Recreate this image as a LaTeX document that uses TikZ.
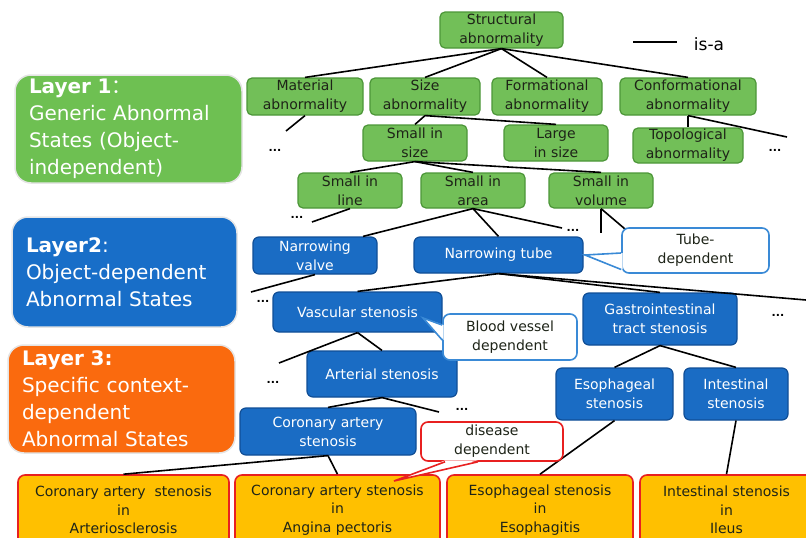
\documentclass[tikz,border=0pt]{standalone}
\usepackage{fontspec}
\setmainfont{DejaVu Sans}
\newfontfamily\cjkfont{Noto Sans CJK SC}
\usetikzlibrary{positioning,calc}

\definecolor{greenfill}{RGB}{114,191,88}
\definecolor{greenline}{RGB}{76,150,56}
\definecolor{layergreen}{RGB}{110,192,82}
\definecolor{bluefill}{RGB}{26,108,196}
\definecolor{blueline}{RGB}{16,78,150}
\definecolor{layerblue}{RGB}{24,110,200}
\definecolor{layerorange}{RGB}{250,106,14}
\definecolor{yellowfill}{RGB}{255,192,0}
\definecolor{redline}{RGB}{232,32,32}
\definecolor{callblue}{RGB}{58,138,214}
\definecolor{darktext}{RGB}{30,36,24}

\begin{document}
\begin{tikzpicture}[x=1pt, y=-1pt,
greennode/.style={rectangle, rounded corners=5pt, draw=greenline, fill=greenfill, line width=1.2pt, text=darktext, align=center, inner sep=0pt, font=\fontsize{14}{19}\selectfont},
bluenode/.style={rectangle, rounded corners=6pt, draw=blueline, fill=bluefill, line width=1.2pt, text=white, align=center, inner sep=0pt, font=\fontsize{14}{19}\selectfont},
yellownode/.style={rectangle, rounded corners=7pt, draw=redline, fill=yellowfill, line width=1.6pt, text=darktext, align=center, inner sep=0pt, font=\fontsize{14}{18.5}\selectfont},
callnode/.style={rectangle, rounded corners=7pt, draw=callblue, fill=white, line width=1.6pt, text=darktext, align=center, inner sep=0pt, font=\fontsize{14}{19}\selectfont},
layernode/.style={rectangle, rounded corners=16pt, draw=black!10, line width=1.5pt, text=white, align=left, inner xsep=14pt, inner ysep=0pt, font=\fontsize{20}{27}\selectfont},
dotnode/.style={inner sep=0pt, font=\bfseries\fontsize{11}{11}\selectfont},
isa/.style={line width=1.6pt, black},
]
\useasboundingbox (0,0) rectangle (806,538);
\clip (0,0) rectangle (806,538);

%Layer boxes
\node[layernode, fill=layergreen, text width=199pt, minimum height=108pt] (layer1) at (128.5,129) {\textbf{Layer 1}{\cjkfont ：}\\Generic Abnormal\\States (Object-\\independent)};
\node[layernode, fill=layerblue, text width=197pt, minimum height=110pt] (layer2) at (124.5,272) {\textbf{Layer2}:\\Object-dependent\\Abnormal States};
\node[layernode, fill=layerorange, text width=199pt, minimum height=108pt] (layer3) at (121.5,399) {\textbf{Layer 3:}\\Specific context-\\dependent\\Abnormal States};

%Generic states
\node[greennode, minimum width=123pt, minimum height=36pt] (structural) at (501.5,30) {Structural\\abnormality};
\node[greennode, minimum width=116pt, minimum height=37pt] (material) at (305,96.5) {Material\\abnormality};
\node[greennode, minimum width=110pt, minimum height=37pt] (size) at (425,96.5) {Size\\abnormality};
\node[greennode, minimum width=110pt, minimum height=37pt] (formational) at (547,96.5) {Formational\\abnormality};
\node[greennode, minimum width=136pt, minimum height=37pt] (conformational) at (688,96.5) {Conformational\\abnormality};
\node[greennode, minimum width=104pt, minimum height=36pt] (smallsize) at (415,143) {Small in\\size};
\node[greennode, minimum width=104pt, minimum height=36pt] (largesize) at (556,143) {Large\\in size};
\node[greennode, minimum width=110pt, minimum height=35pt] (topological) at (688,145.5) {Topological\\abnormality};
\node[greennode, minimum width=104pt, minimum height=35pt] (smallline) at (350,190.5) {Small in\\line};
\node[greennode, minimum width=104pt, minimum height=35pt] (smallarea) at (473,190.5) {Small in\\area};
\node[greennode, minimum width=104pt, minimum height=35pt] (smallvolume) at (601,190.5) {Small in\\volume};

%Object-dependent states
\node[bluenode, minimum width=124pt, minimum height=37pt] (valve) at (315,255.5) {Narrowing\\valve};
\node[bluenode, minimum width=169pt, minimum height=36pt] (tube) at (498.5,255) {Narrowing tube};
\node[bluenode, minimum width=169pt, minimum height=40pt] (vascular) at (357.5,312) {Vascular stenosis};
\node[bluenode, minimum width=150pt, minimum height=46pt] (arterial) at (382,374) {Arterial stenosis};
\node[bluenode, minimum width=154pt, minimum height=52pt] (gastro) at (660,319) {Gastrointestinal\\tract stenosis};
\node[bluenode, minimum width=117pt, minimum height=52pt] (esophageal) at (614.5,394) {Esophageal\\stenosis};
\node[bluenode, minimum width=104pt, minimum height=52pt] (intestinal) at (736,394) {Intestinal\\stenosis};
\node[bluenode, minimum width=176pt, minimum height=47pt] (coronary) at (328,431.5) {Coronary artery\\stenosis};

%Context-dependent states
\node[yellownode, minimum width=211pt, minimum height=70pt] (arterio) at (123.5,510) {Coronary artery\ \ stenosis\\in\\Arteriosclerosis};
\node[yellownode, minimum width=205pt, minimum height=70pt] (angina) at (337.5,510) {Coronary artery stenosis\\in\\Angina pectoris};
\node[yellownode, minimum width=186pt, minimum height=70pt] (esophagitis) at (540,510) {Esophageal stenosis\\in\\Esophagitis};
\node[yellownode, minimum width=173pt, minimum height=70pt] (ileus) at (726.5,510) {Intestinal stenosis\\in\\Ileus};

%Dots
\node[dotnode] (dots1) at (275,150) {...};
\node[dotnode] (dots2) at (775,150) {...};
\node[dotnode] (dots3) at (297,217) {...};
\node[dotnode] (dots4) at (573,230) {...};
\node[dotnode] (dots5) at (263,301) {...};
\node[dotnode] (dots6) at (778,315) {...};
\node[dotnode] (dots7) at (273,382) {...};
\node[dotnode] (dots8) at (462,409) {...};

%Free ends
\coordinate (end1) at (286,131);
\coordinate (end2) at (787,137);
\coordinate (end3) at (312,222);
\coordinate (end4) at (562,228);
\coordinate (end5) at (601,233);
\coordinate (end6) at (645,246);
\coordinate (end7) at (251,292);
\coordinate (end8) at (806,300);
\coordinate (end9) at (279,363);
\coordinate (end10) at (439,412);

%Legend
\coordinate (isastart) at (633,42);
\coordinate (isaend) at (677,42);
\draw[isa] (isastart) -- (isaend);
\node[font=\fontsize{17}{17}\selectfont, inner sep=0pt] (isalabel) at (709,44) {is-a};

%Lines
\draw[isa] (structural.south) -- (material.north);
\draw[isa] (structural.south) -- (size.north);
\draw[isa] (structural.south) -- (formational.north);
\draw[isa] (structural.south) -- (conformational.north);
\draw[isa] (material.south) -- (end1);
\draw[isa] (size.south) -- (smallsize.north);
\draw[isa] (size.south) -- (largesize.north);
\draw[isa] (conformational.south) -- (topological.north);
\draw[isa] (conformational.south) -- (end2);
\draw[isa] (smallsize.south) -- (smallline.north);
\draw[isa] (smallsize.south) -- (smallarea.north);
\draw[isa] (smallsize.south) -- (smallvolume.north);
\draw[isa] (smallline.south) -- (end3);
\draw[isa] (smallarea.south) -- ($(valve.north)+(48,0)$);
\draw[isa] (smallarea.south) -- (tube.north);
\draw[isa] (smallarea.south) -- (end4);
\draw[isa] (smallvolume.south) -- (end5);
\draw[isa] (smallvolume.south) -- (end6);
\draw[isa] (valve.south) -- (end7);
\draw[isa] (tube.south) -- (vascular.north);
\draw[isa] (tube.south) -- (gastro.north);
\draw[isa] (tube.south) -- (end8);
\draw[isa] (vascular.south) -- (end9);
\draw[isa] (vascular.south) -- (arterial.north);
\draw[isa] (arterial.south) -- (coronary.north);
\draw[isa] (arterial.south) -- (end10);
\draw[isa] (coronary.south) -- (arterio.north);
\draw[isa] (coronary.south) -- (angina.north);
\draw[isa] (gastro.south) -- (esophageal.north);
\draw[isa] (gastro.south) -- (intestinal.north);
\draw[isa] (esophageal.south) -- (esophagitis.north);
\draw[isa] (intestinal.south) -- (ileus.north);

%Callouts
\node[callnode, minimum width=147pt, minimum height=45pt] (tubedep) at (695.5,250.5) {Tube-\\dependent};
\node[callnode, minimum width=134pt, minimum height=46pt] (bloodvessel) at (510,337) {Blood vessel\\dependent};
\node[callnode, draw=redline, minimum width=142pt, minimum height=39pt] (disease) at (492,441.5) {disease\\dependent};
\coordinate (tubetip) at (585,255);
\coordinate (bloodtip) at (423,318);
\coordinate (diseasetip) at (394,481);
\fill[white] ($(tubedep.west)+(1.5,2.5)$) -- (tubetip) -- ($(tubedep.west)+(1.5,19)$) -- cycle;
\draw[callblue, line width=1.6pt] ($(tubedep.west)+(0,2.5)$) -- (tubetip) -- ($(tubedep.west)+(0,19)$);
\fill[white] ($(bloodvessel.west)+(1.5,-12)$) -- (bloodtip) -- ($(bloodvessel.west)+(1.5,3)$) -- cycle;
\draw[callblue, line width=1.6pt] ($(bloodvessel.west)+(0,-12)$) -- (bloodtip) -- ($(bloodvessel.west)+(0,3)$);
\fill[white] ($(disease.south)+(-47,-1.5)$) -- (diseasetip) -- ($(disease.south)+(-14,-1.5)$) -- cycle;
\draw[redline, line width=1.6pt] ($(disease.south)+(-47,0)$) -- (diseasetip) -- ($(disease.south)+(-14,0)$);

\end{tikzpicture}
\end{document}
